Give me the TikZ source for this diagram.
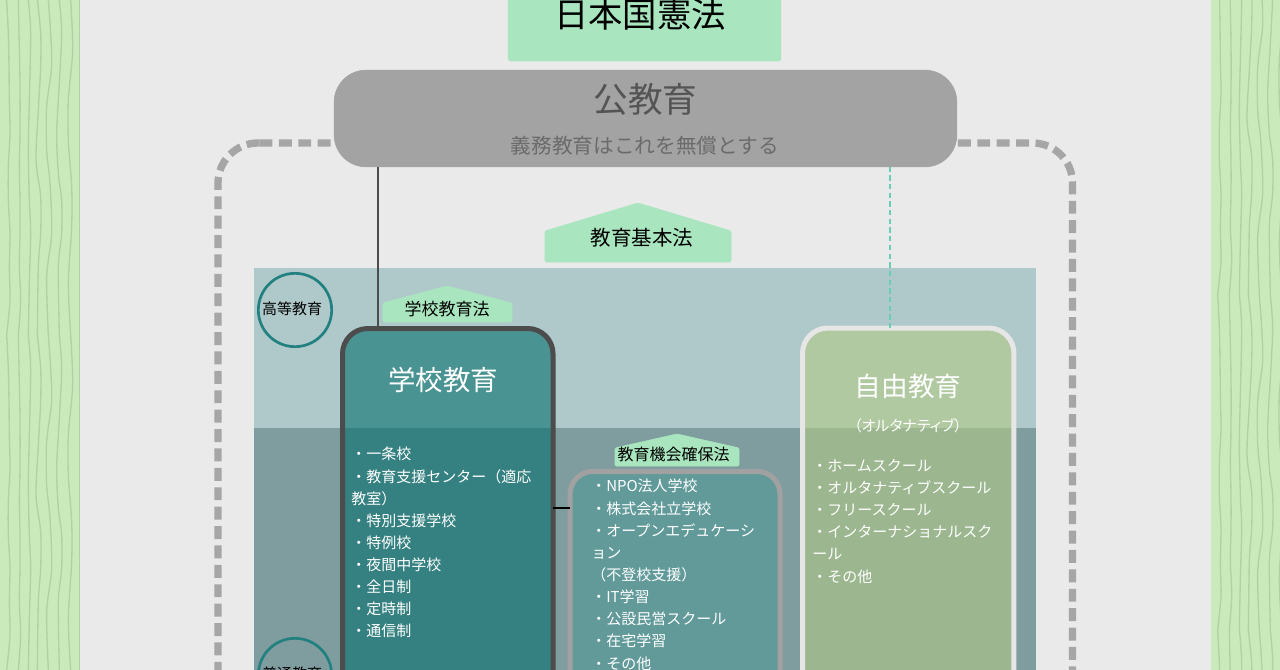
\documentclass[tikz,border=0pt]{standalone}
\usepackage{fontspec}
\setmainfont{Noto Sans CJK JP}
\newfontfamily\paltfont[RawFeature=+palt]{Noto Sans CJK JP}
\definecolor{pagebg}{HTML}{EAEAEA}
\definecolor{stripe}{HTML}{CBEABB}
\definecolor{grainc}{HTML}{B3CFA6}
\definecolor{framec}{HTML}{A6A6A6}
\definecolor{bandup}{HTML}{AFC8CA}
\definecolor{banddown}{HTML}{7F9C9F}
\definecolor{lawc}{HTML}{A9E6BF}
\definecolor{pubc}{HTML}{A3A3A3}
\definecolor{teal}{HTML}{218080}
\definecolor{schoolfill}{HTML}{006D6B}
\definecolor{freefill}{HTML}{B2CB85}
\definecolor{oppfill}{HTML}{629A9A}
\definecolor{freeedge}{HTML}{E6E6E6}
\definecolor{dashc}{HTML}{66CFB6}
\newcommand{\graintile}{%
 \draw[grain] plot[smooth] coordinates {(20,0)(25,100)(27,200)(28,300)(30,400)(25,500)(25,600)(30,700)(28,800)(30,900)(20,1005)};
 \draw[grain] plot[smooth] coordinates {(55,0)(57,100)(60,250)(60,400)(58,500)(60,600)(60,700)(58,800)(62,900)(55,1005)};
 \draw[grain] plot[smooth] coordinates {(85,0)(92,100)(88,300)(85,450)(88,600)(92,700)(88,850)(85,1005)};
 \draw[grain] plot[smooth] coordinates {(112,0)(122,100)(122,200)(115,330)(108,480)(122,590)(122,700)(115,800)(112,1005)};
 \draw[grain] plot[smooth] coordinates {(145,0)(152,100)(155,200)(140,320)(140,450)(150,550)(155,700)(140,830)(145,1005)};
 \draw[grain] plot[smooth] coordinates {(178,0)(185,100)(178,250)(170,400)(175,520)(185,600)(185,700)(175,800)(178,1005)};
 \draw[grain] plot[smooth] coordinates {(212,0)(218,150)(205,300)(205,420)(215,560)(215,680)(205,850)(212,1005)};
 \draw[grain] (238,0) -- (238,1005);
}
\tikzset{
 grain/.style={draw=grainc,line width=1pt},
 box/.style={draw,outer sep=0pt,inner sep=0pt},
 lawtext/.style={text=black,inner sep=0pt},
 listtext/.style={text=white,inner sep=0pt,anchor=north west,align=left},
 lawshape/.style={fill=lawc,draw=lawc,line width=.5pt,line join=round,rounded corners=1pt},
 levelring/.style={circle,draw=teal,line width=2pt,minimum size=55pt,inner sep=0pt,outer sep=0pt},
 levellabel/.style={text=black,inner sep=0pt,font=\fontsize{11.25pt}{13pt}\selectfont},
}
\begin{document}
\begin{tikzpicture}[x=0.75pt,y=-0.75pt]
\useasboundingbox (0,0) rectangle (1280,670);
\clip (0,0) rectangle (1280,670);
\fill[pagebg] (0,0) rectangle (1280,670);
% wood stripes
\fill[stripe] (0,0) rectangle (80,670);
\fill[stripe] (1211,0) rectangle (1280,670);
\begin{scope}
 \clip (0,0) rectangle (80,670);
 \begin{scope}[x=0.25pt,y=-0.25pt]\graintile\end{scope}
 \begin{scope}[yshift=-251.25pt,x=0.25pt,y=-0.25pt]\graintile\end{scope}
\end{scope}
\begin{scope}
 \clip (1211,0) rectangle (1280,670);
 \begin{scope}[xshift=908.25pt,yshift=30pt,x=0.25pt,y=-0.25pt]\graintile\end{scope}
 \begin{scope}[xshift=908.25pt,yshift=-221.25pt,x=0.25pt,y=-0.25pt]\graintile\end{scope}
 \begin{scope}[xshift=908.25pt,yshift=-472.5pt,x=0.25pt,y=-0.25pt]\graintile\end{scope}
\end{scope}
% dashed frame
\draw[framec,line width=5.5pt,dash pattern=on 9.7pt off 4.85pt] (259.5,143) -- (258,143) arc[start angle=-90,end angle=-180,radius=40] -- (218,720);
\draw[framec,line width=5.5pt,dash pattern=on 9.7pt off 4.85pt] (259.5,143) -- (1032.5,143) arc[start angle=-90,end angle=0,radius=40] -- (1072.5,720);
% levels
\fill[bandup] (253.5,268) rectangle (1035.5,427.5);
\fill[banddown] (253.5,427.5) rectangle (1035.5,720);
\node[levelring] (high) at (295,310) {};
\node[levellabel] (highlabel) at (292,309) {高等教育};
\node[levelring] (basic) at (295,675) {};
\node[levellabel] (basiclabel) at (292,674) {普通教育};
% constitution
\node[box,draw=lawc,fill=lawc,line width=.5pt,rounded corners=2pt,minimum width=204.5pt,minimum height=60pt] (constitution) at (644.5,21) {};
\node[lawtext,font=\fontsize{25.75pt}{28pt}\selectfont] (constitutionlabel) at (640,14.5) {日本国憲法};
% public education
\node[box,draw=pubc,fill=pubc,line width=.5pt,rounded corners=24pt,minimum width=467pt,minimum height=72.5pt] (public) at (645.5,118.5) {};
\node[inner sep=0pt,text=black!67,font=\fontsize{26pt}{28pt}\selectfont] (publiclabel) at (645.5,99) {公教育};
\node[inner sep=0pt,text=black!58,font=\fontsize{15.5pt}{18pt}\selectfont] (publicsub) at (645,146) {義務教育はこれを無償とする};
% basic law
\path[lawshape] (545,262) -- (545,231) -- (638,203) -- (731,231) -- (731,262) -- cycle;
\node[lawtext,font=\fontsize{15.4pt}{18pt}\selectfont] (basiclaw) at (642,238) {教育基本法};
% school law
\path[lawshape] (383,322) -- (383,303) -- (447,286) -- (512,303) -- (512,322) -- cycle;
\node[lawtext,font=\fontsize{12.75pt}{15pt}\selectfont] (schoollaw) at (447,309) {学校教育法};
% school education
\node[box,draw=black!70,line width=3.75pt,fill=schoolfill,fill opacity=.58,rounded corners=19pt,minimum width=157.9pt,minimum height=300pt,anchor=north west] (school) at (342.5,328.5) {};
\node[text=white,inner sep=0pt,font=\fontsize{20.6pt}{23pt}\selectfont] (schooltitle) at (443,380) {学校教育};
\node[listtext,font=\fontsize{11.25pt}{16.6pt}\selectfont] (schoollist) at (351,447) {・一条校\\・教育支援センター（適応\\教室）\\・特別支援学校\\・特例校\\・夜間中学校\\・全日制\\・定時制\\・通信制};
% opportunity law + box
\path[lawshape] (615,466) -- (615,448) -- (677,434) -- (739,448) -- (739,466) -- cycle;
\node[lawtext,font=\fontsize{12pt}{14pt}\selectfont] (opplaw) at (673.5,454) {教育機会確保法};
\node[box,draw=black!37,line width=3.75pt,fill=oppfill,rounded corners=17pt,minimum width=157.5pt,minimum height=200pt,anchor=north west] (opp) at (570,471.5) {};
\node[listtext,font=\fontsize{11.25pt}{16.6pt}\selectfont] (opplist) at (591,479) {・NPO法人学校\\・株式会社立学校\\・オープンエデュケーシ\\ョン\\（不登校支援）\\・IT学習\\・公設民営スクール\\・在宅学習\\・その他};
% free education
\node[box,draw=freeedge,line width=3.75pt,fill=freefill,fill opacity=.58,rounded corners=19pt,minimum width=158.6pt,minimum height=300pt,anchor=north west] (free) at (802.5,328) {};
\node[text=white,inner sep=0pt,font=\fontsize{20pt}{23pt}\selectfont] (freetitle) at (908,386.5) {自由教育};
\node[text=white,inner sep=0pt,font=\paltfont\fontsize{11.25pt}{14pt}\selectfont] (freesub) at (908,426) {（オルタナティブ）};
\node[listtext,font=\fontsize{11.25pt}{16.6pt}\selectfont] (freelist) at (812,459) {・ホームスクール\\・オルタナティブスクール\\・フリースクール\\・インターナショナルスク\\ール\\・その他};
% connectors
\coordinate (solidx) at (378,0);
\coordinate (dashx) at (890,0);
\coordinate (linky) at (0,508);
\draw[black!70,line width=2.2pt] (public.south -| solidx) -- (school.north -| solidx);
\draw[dashc,line width=1.9pt,dash pattern=on 4pt off 2.5pt] (public.south -| dashx) -- (free.north -| dashx);
\draw[black,line width=2.1pt] (school.east |- linky) -- (opp.west |- linky);
\end{tikzpicture}
\end{document}
